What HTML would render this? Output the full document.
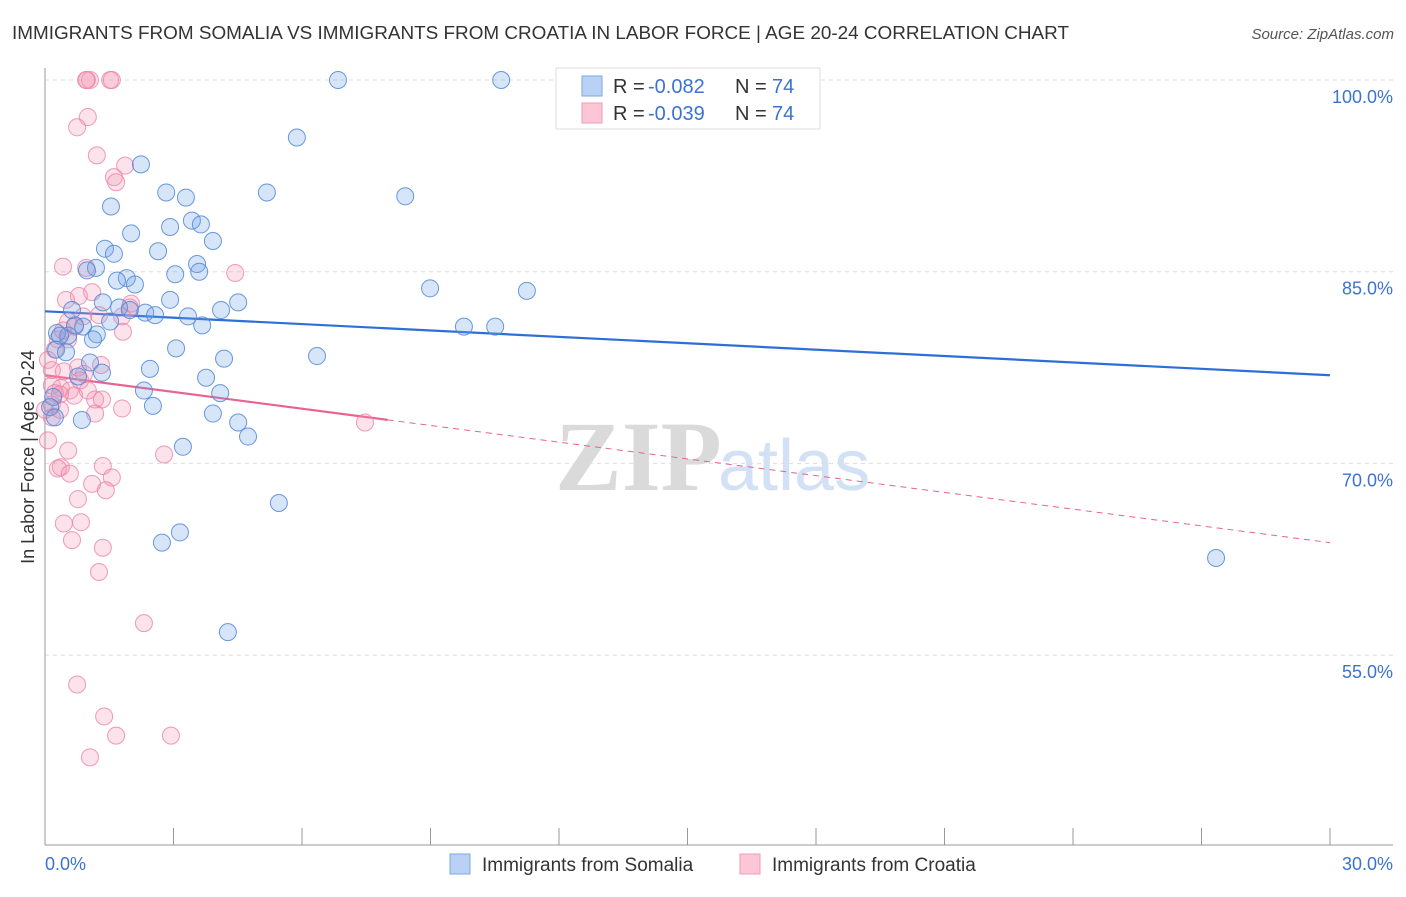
<!DOCTYPE html>
<html><head><meta charset="utf-8"><style>
body{margin:0;background:#fff;font-family:"Liberation Sans",sans-serif;}
</style></head><body>
<svg id="chart" width="1406" height="892" xmlns="http://www.w3.org/2000/svg" style="font-family:'Liberation Sans',sans-serif">
<text x="12" y="39" font-size="18" fill="#333" textLength="1057" lengthAdjust="spacingAndGlyphs">IMMIGRANTS FROM SOMALIA VS IMMIGRANTS FROM CROATIA IN LABOR FORCE | AGE 20-24 CORRELATION CHART</text>
<text x="1394" y="39" font-size="15" fill="#555" font-style="italic" text-anchor="end">Source: ZipAtlas.com</text>
<text transform="translate(34,457) rotate(-90)" font-size="18" fill="#333" text-anchor="middle">In Labor Force | Age 20-24</text>
<g>
<text x="555" y="490" font-size="100" fill="#dadada" font-family="Liberation Serif,serif" font-weight="bold">ZIP</text>
<text x="718" y="490" font-size="72" fill="#d2e1f5">atlas</text>
</g>
<g id="grid"></g><g id="axes"></g><g id="lines"></g><g id="pts"></g>
<g>
<rect x="556" y="68" width="264" height="61" fill="#fff" stroke="#ddd"/>
<rect x="582" y="76" width="20" height="20" fill="#b8d1f5" stroke="#7ba6e6"/>
<text x="613" y="93" font-size="20" fill="#333">R =</text>
<text x="648" y="93" font-size="20" fill="#3b73d0">-0.082</text>
<text x="735" y="93" font-size="20" fill="#333">N =</text>
<text x="772" y="93" font-size="20" fill="#3b73d0">74</text>
<rect x="582" y="103" width="20" height="20" fill="#fcc6d6" stroke="#f09ab5"/>
<text x="613" y="120" font-size="20" fill="#333">R =</text>
<text x="648" y="120" font-size="20" fill="#3b73d0">-0.039</text>
<text x="735" y="120" font-size="20" fill="#333">N =</text>
<text x="772" y="120" font-size="20" fill="#3b73d0">74</text>
</g>
<g>
<rect x="450" y="854" width="20" height="20" fill="#b8d1f5" stroke="#7ba6e6"/>
<text x="482" y="871" font-size="19" fill="#333">Immigrants from Somalia</text>
<rect x="740" y="854" width="20" height="20" fill="#fcc6d6" stroke="#f09ab5"/>
<text x="772" y="871" font-size="19" fill="#333">Immigrants from Croatia</text>
</g>
</svg>
<script>
const yTicks=[100,85,70,55];
const yTickLabels=["100.0%","85.0%","70.0%","55.0%"];
const xTickCount=10;
const xLabels=["0.0%","30.0%"];
const somaliaX=[6.84,10.65,5.88,2.24,2.83,5.18,8.41,3.29,1.54,3.43,2.92,3.64,2.01,3.92,1.40,2.64,1.61,3.55,1.19,0.98,3.04,3.60,1.91,1.68,2.10,8.99,11.25,1.35,4.51,1.73,2.34,1.98,2.57,4.11,3.34,0.63,3.67,9.78,10.51,0.89,1.21,0.28,0.54,1.12,3.06,0.26,0.49,6.35,2.45,4.18,1.05,1.33,0.77,3.76,2.31,4.09,2.52,3.92,4.51,4.74,3.22,5.46,3.15,2.73,4.27,27.34,0.19,0.12,0.23,0.86,0.35,0.70,1.52,2.92];
const somaliaY=[100,100,95.5,93.4,91.2,91.2,90.9,90.8,90.1,89.0,88.5,88.7,88.0,87.4,86.8,86.6,86.4,85.6,85.3,85.1,84.8,85.0,84.5,84.3,84.0,83.7,83.5,82.6,82.6,82.2,81.8,82.0,81.6,82.0,81.5,82.0,80.8,80.7,80.7,80.7,80.1,80.2,80.0,79.7,79.0,78.9,78.7,78.4,77.4,78.2,77.9,77.1,76.8,76.7,75.7,75.5,74.5,73.9,73.2,72.1,71.3,66.9,64.6,63.8,56.8,62.6,75.2,74.4,73.6,73.4,80.0,80.8,81.1,82.8];
const croatiaX=[0.98,1.05,1.52,1.56,0.96,1.00,0.75,1.21,1.87,1.61,1.66,0.42,0.96,4.44,1.10,0.79,0.49,2.01,0.89,1.26,1.80,0.54,0.70,1.82,0.30,0.54,0.77,1.31,0.16,0.44,0.91,0.16,0.37,0.58,0.23,0.68,1.17,1.33,0.16,0.35,1.17,1.80,0.16,7.47,0.07,0.54,2.78,0.37,1.35,0.30,1.56,0.58,1.10,1.42,0.77,0.44,0.84,0.63,1.35,1.26,2.31,0.75,1.38,1.66,2.94,1.05,0.07,0.23,0.42,0.82,0.0,1.98,1.00,0.35];
const croatiaY=[100,100,100,100,100,97.1,96.3,94.1,93.3,92.4,92.0,85.4,85.3,84.9,83.4,83.1,82.8,82.5,81.5,81.6,81.5,81.1,80.7,80.3,79.7,79.7,77.5,77.7,77.3,77.2,77.0,76.1,75.9,75.7,75.5,75.3,75.0,75.0,74.6,74.2,73.9,74.3,73.6,73.2,71.8,71.0,70.7,69.7,69.8,69.6,68.9,69.2,68.4,67.9,67.2,65.3,65.4,64.0,63.4,61.5,57.5,52.7,50.2,48.7,48.7,47.0,78.1,78.9,80.4,76.5,74.2,82.2,75.7,75.4];
const somaliaTrend=[81.9,76.9];
const croatiaTrend=[76.9,63.8];
const croatiaSolidEnd=8.0;

const NS="http://www.w3.org/2000/svg";
const X0=45,X1=1330,XMAX=30;
function sx(v){return X0+(v/XMAX)*(X1-X0);}
function sy(v){return 80+(100-v)*12.78;}
function mk(tag,attrs,parent){const e=document.createElementNS(NS,tag);for(const k in attrs)e.setAttribute(k,attrs[k]);parent.appendChild(e);return e;}
const grid=document.getElementById('grid'),axes=document.getElementById('axes'),lines=document.getElementById('lines'),pts=document.getElementById('pts');
yTicks.forEach((t,i)=>{
  const l=mk('line',{x1:X0,x2:1393,y1:sy(t),y2:sy(t),stroke:'#ddd','stroke-dasharray':'4,4'},grid);
  
  
  const tx=mk('text',{x:1393,y:sy(t)+23,'font-size':18,fill:'#3b73d0','text-anchor':'end'},grid);
  tx.textContent=yTickLabels[i];
  
  
});
const ya=mk('line',{x1:X0,x2:X0,y1:68,y2:845,stroke:'#999'},axes);


const xa=mk('line',{x1:X0,x2:1393,y1:845,y2:845,stroke:'#999'},axes);


for(let i=0;i<=xTickCount;i++){
  const x=sx(i*XMAX/xTickCount);
  const t=mk('line',{x1:x,x2:x,y1:828,y2:845,stroke:'#999'},axes);
  
  
}
const xl0=mk('text',{x:45,y:870,'font-size':18,fill:'#3b73d0'},axes);xl0.textContent=xLabels[0];


const xl1=mk('text',{x:1393,y:870,'font-size':18,fill:'#3b73d0','text-anchor':'end'},axes);xl1.textContent=xLabels[1];



function drawPts(xs,ys,fill,stroke,name){
  xs.forEach((v,i)=>{
    const c=mk('circle',{cx:sx(v),cy:sy(ys[i]),r:8.5,fill:fill,stroke:stroke,'stroke-width':1},pts);
    
    
  });
}
drawPts(croatiaX,croatiaY,'rgba(244,150,180,0.28)','rgba(236,130,165,0.8)','croatia-point');
drawPts(somaliaX,somaliaY,'rgba(110,160,230,0.28)','rgba(80,135,215,0.85)','somalia-point');

const bt=mk('line',{x1:sx(0),y1:sy(somaliaTrend[0]),x2:sx(XMAX),y2:sy(somaliaTrend[1]),stroke:'#2d6fd6','stroke-width':2.2},lines);


const ce=croatiaTrend[0]+(croatiaTrend[1]-croatiaTrend[0])*croatiaSolidEnd/XMAX;
const pt1=mk('line',{x1:sx(0),y1:sy(croatiaTrend[0]),x2:sx(croatiaSolidEnd),y2:sy(ce),stroke:'#e8638f','stroke-width':2.2},lines);


const pt2=mk('line',{x1:sx(croatiaSolidEnd),y1:sy(ce),x2:sx(XMAX),y2:sy(croatiaTrend[1]),stroke:'#e8638f','stroke-width':1,'stroke-dasharray':'6,5'},lines);


</script>
</body></html>
